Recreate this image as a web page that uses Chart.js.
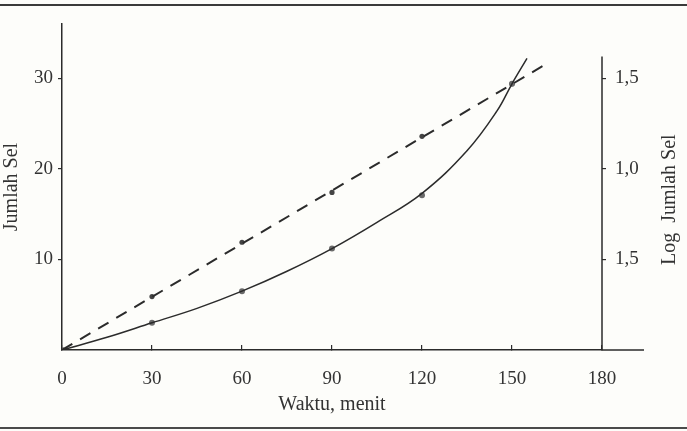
<!DOCTYPE html>
<html lang="id">
<head>
<meta charset="utf-8">
<title>Jumlah Sel terhadap Waktu</title>
<script src="https://cdn.jsdelivr.net/npm/chart.js@4.4.1/dist/chart.umd.min.js"></script>
<style>
  html, body { margin: 0; padding: 0; background: #fdfdfa; }
  .page { position: relative; width: 687px; height: 431px; overflow: hidden; }
  .page canvas { position: absolute; left: 0; top: 0; }
  .rule-top { position: absolute; left: 0; right: 0; top: 4px; height: 2px; background: #3a3a3a; }
  .rule-bottom { position: absolute; left: 0; right: 0; top: 427px; height: 2px; background: #4a4a4a; }
</style>
</head>
<body>
<div class="page">
  <canvas id="growthChart" width="687" height="431"></canvas>
  <div class="rule-top"></div>
  <div class="rule-bottom"></div>
</div>
<script>
// tick labels
const timeTicks = [0, 30, 60, 90, 120, 150, 180];
const leftTicks = [10, 20, 30];
const rightTicks = [10, 20, 30];
const rightTickLabels = ['1,5', '1,0', '1,5'];

// measured points (both read on the left scale)
const sampleTime = [0, 30, 60, 90, 120, 150];
const cellCount = [0, 3, 6.5, 11.2, 17.1, 29.4];
const logCount = [0, 5.9, 11.9, 17.4, 23.6, 29.4];

// solid curve
const curveTime = [0, 15, 30, 45, 60, 75, 90, 105, 120, 135, 145, 150, 155];
const curveCount = [0, 1.4, 3, 4.6, 6.5, 8.7, 11.2, 14.1, 17.3, 22.0, 26.4, 29.4, 32.2];

// dashed straight line, its two ends
const logLineTime = [0, 162];
const logLineCount = [0, 31.7];

// axis extents
const yMax = 36;
const rightAxisTop = 32.4;
const xAxisEnd = 194;

const inkColor = '#2b2b2b';
const textColor = '#333333';
const serif = 'Liberation Serif';
const tickFont = { family: serif, size: 19 };
const titleFont = { family: serif, size: 20 };

// turn two arrays into {x, y} points
function toPoints(xs, ys) {
  return xs.map((x, i) => ({ x: x, y: ys[i] }));
}

// right axis line, x axis extension and right title
const paperAxes = {
  id: 'paperAxes',
  afterDraw(chart) {
    const { ctx, scales } = chart;
    const x = scales.x;
    const y2 = scales.y2;
    const ax = x.getPixelForValue(180);

    ctx.save();
    ctx.strokeStyle = inkColor;
    ctx.lineWidth = 1.5;
    ctx.beginPath();
    ctx.moveTo(ax, y2.getPixelForValue(0));
    ctx.lineTo(ax, y2.getPixelForValue(rightAxisTop));
    ctx.moveTo(ax, x.top);
    ctx.lineTo(x.getPixelForValue(xAxisEnd), x.top);
    ctx.stroke();

    ctx.translate(ax + 68, y2.getPixelForValue(16.6));
    ctx.rotate(-Math.PI / 2);
    ctx.fillStyle = textColor;
    ctx.font = titleFont.size + 'px "' + serif + '"';
    ctx.textAlign = 'center';
    ctx.textBaseline = 'middle';
    ctx.fillText('Log  Jumlah Sel', 0, 0);
    ctx.restore();
  }
};

// draw the chart
function renderGrowthChart() {
  const ctx = document.getElementById('growthChart').getContext('2d');

  new Chart(ctx, {
    type: 'line',
    data: {
      datasets: [{
        label: 'Jumlah Sel',
        data: toPoints(curveTime, curveCount),
        borderColor: inkColor,
        borderWidth: 1.5,
        tension: 0.4,
        pointRadius: 0
      }, {
        label: 'Log Jumlah Sel',
        data: toPoints(logLineTime, logLineCount),
        borderColor: inkColor,
        borderWidth: 2,
        borderDash: [12, 9],
        pointRadius: 0
      }, {
        label: 'Jumlah Sel (titik)',
        data: toPoints(sampleTime, cellCount),
        showLine: false,
        pointRadius: 3,
        pointBackgroundColor: '#6a6a6a',
        pointBorderWidth: 0
      }, {
        label: 'Log Jumlah Sel (titik)',
        data: toPoints(sampleTime, logCount),
        showLine: false,
        pointRadius: 2.6,
        pointBackgroundColor: '#444444',
        pointBorderWidth: 0
      }]
    },
    options: {
      responsive: false,
      animation: false,
      devicePixelRatio: 1,
      layout: { padding: { top: 24, left: 0, right: 0, bottom: 0 } },
      plugins: {
        legend: { display: false },
        tooltip: { enabled: false }
      },
      scales: {
        x: {
          type: 'linear',
          min: 0,
          max: 180,
          afterBuildTicks: scale => { scale.ticks = timeTicks.map(v => ({ value: v })); },
          afterFit: scale => { scale.height = 81; },
          border: { display: true, color: inkColor, width: 1.5 },
          grid: { drawOnChartArea: false, tickLength: -5, color: inkColor, lineWidth: 1.2 },
          ticks: { padding: 23, color: textColor, font: tickFont },
          title: {
            display: true,
            text: 'Waktu, menit',
            color: textColor,
            font: titleFont,
            padding: { top: 0, bottom: 14 }
          }
        },
        y: {
          position: 'left',
          min: 0,
          max: yMax,
          afterBuildTicks: scale => { scale.ticks = leftTicks.map(v => ({ value: v })); },
          afterFit: scale => { scale.width = 62; },
          border: { display: true, color: inkColor, width: 1.5 },
          grid: { drawOnChartArea: false, tickLength: 4, color: inkColor, lineWidth: 1.2 },
          ticks: { padding: 5, color: textColor, font: tickFont },
          title: {
            display: true,
            text: 'Jumlah Sel',
            color: textColor,
            font: titleFont,
            padding: { top: 0, bottom: 0 }
          }
        },
        y2: {
          position: 'right',
          min: 0,
          max: yMax,
          afterBuildTicks: scale => { scale.ticks = rightTicks.map(v => ({ value: v })); },
          afterFit: scale => { scale.width = 85; },
          border: { display: false },
          grid: { drawOnChartArea: false, tickLength: 4, color: inkColor, lineWidth: 1.2 },
          ticks: {
            padding: 9,
            color: textColor,
            font: tickFont,
            callback: value => rightTickLabels[rightTicks.indexOf(value)]
          }
        }
      }
    },
    plugins: [paperAxes]
  });
}

document.addEventListener('DOMContentLoaded', renderGrowthChart);
</script>
</body>
</html>
